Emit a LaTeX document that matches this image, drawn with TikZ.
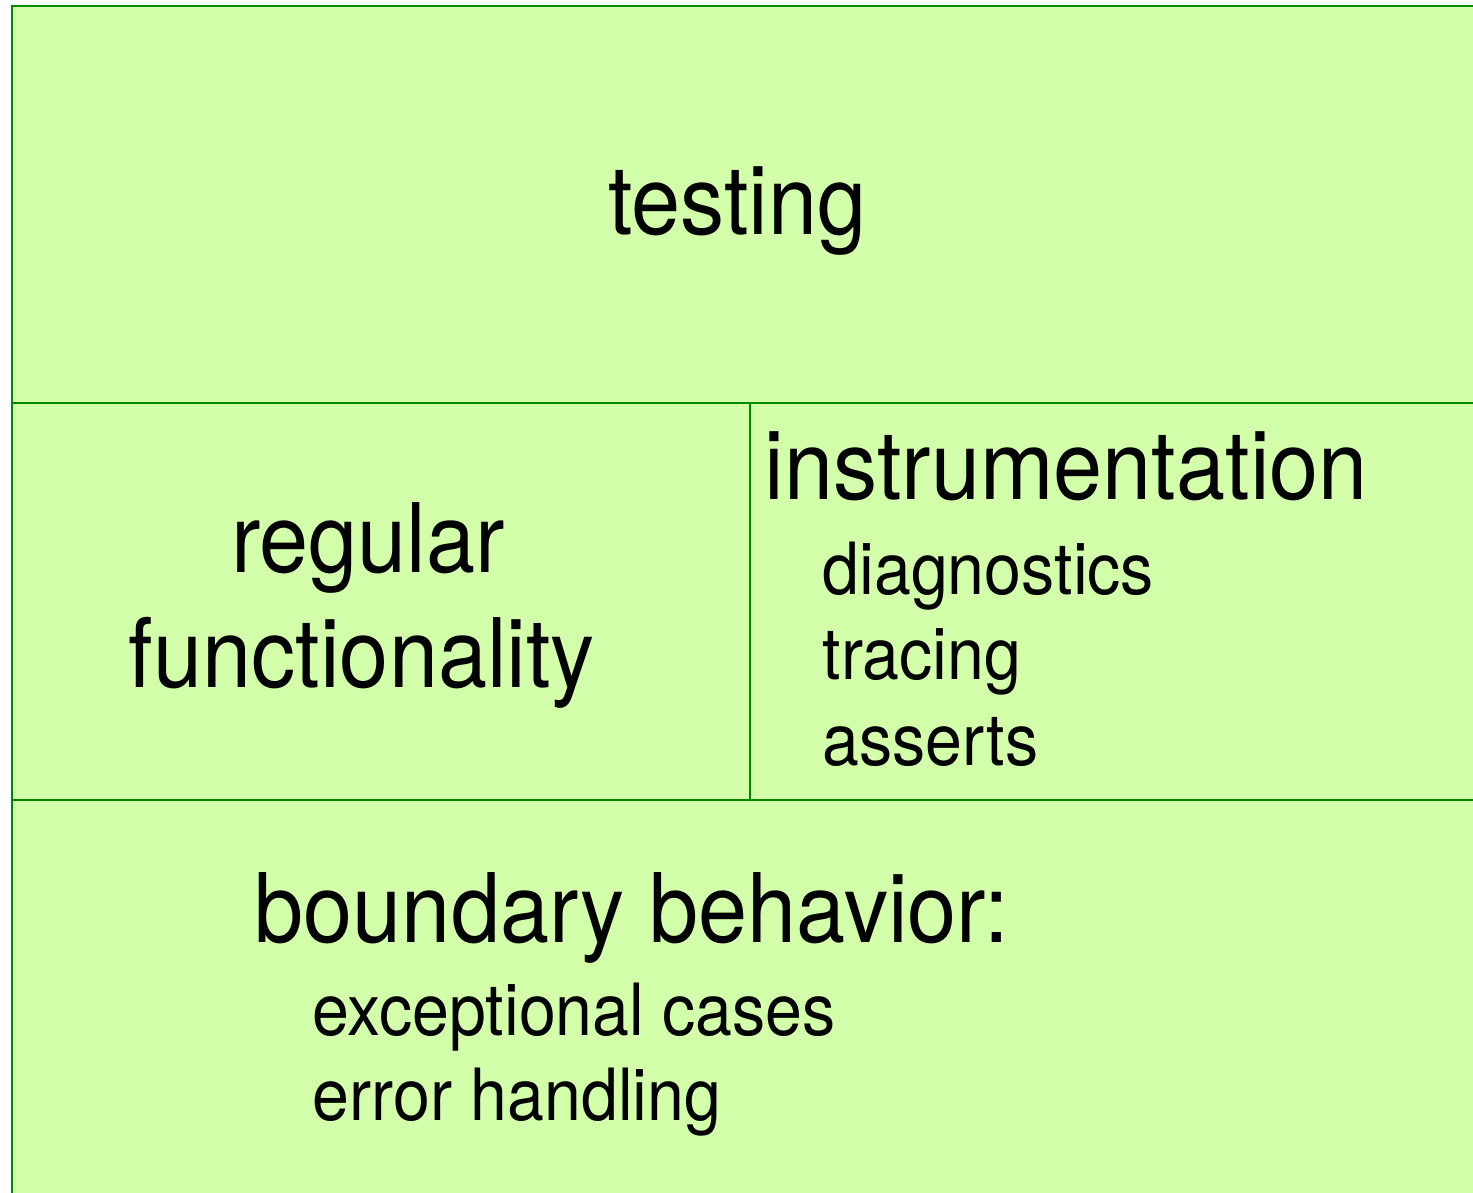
\documentclass[tikz,border=0pt]{standalone}
\usepackage{fontspec}
\setmainfont{TeX Gyre Heros}[FakeStretch=0.92]
\usepackage{tikz}
\definecolor{cellfill}{HTML}{D4FFAA}
\definecolor{cellline}{HTML}{008A00}

\begin{document}
\begin{tikzpicture}[
		big/.style={font=\fontsize{27.3}{32.7}\selectfont, inner sep=0pt},
		small/.style={font=\fontsize{20.5}{24.2}\selectfont, inner sep=0pt, anchor=base west},
		frame/.style={cellline, line width=0.6pt}]
			\clip (0,0) rectangle (14.73,11.92);

			% cells
			\draw[frame, fill=cellfill](0.12,-1) rectangle (16,11.86);
			\draw[frame](0.12,7.89) -- (16,7.89);
			\draw[frame](0.12,3.92) -- (16,3.92);
			\draw[frame](7.50,7.89) -- (7.50,3.92);

			% top
			\node[big, anchor=base] (testing) at (7.375,9.57){testing};

			% middle left
			\node[big, anchor=base] (regular) at (3.68,6.19){regular};
			\node[big, anchor=base] (functionality) at (3.62,5.04){functionality};

			% middle right
			\node[big, anchor=base west] (instr) at (7.64,6.92){instrumentation};
			\node[small] (diag) at (8.22,5.97){diagnostics};
			\node[small] (trac) at (8.22,5.12){tracing};
			\node[small] (asrt) at (8.22,4.27){asserts};

			% bottom
			\node[big, anchor=base west] (bound) at (2.54,2.50){boundary behavior:};
			\node[small] (excp) at (3.12,1.57){exceptional cases};
			\node[small] (errh) at (3.12,0.72){error handling};
		\end{tikzpicture}
\end{document}
